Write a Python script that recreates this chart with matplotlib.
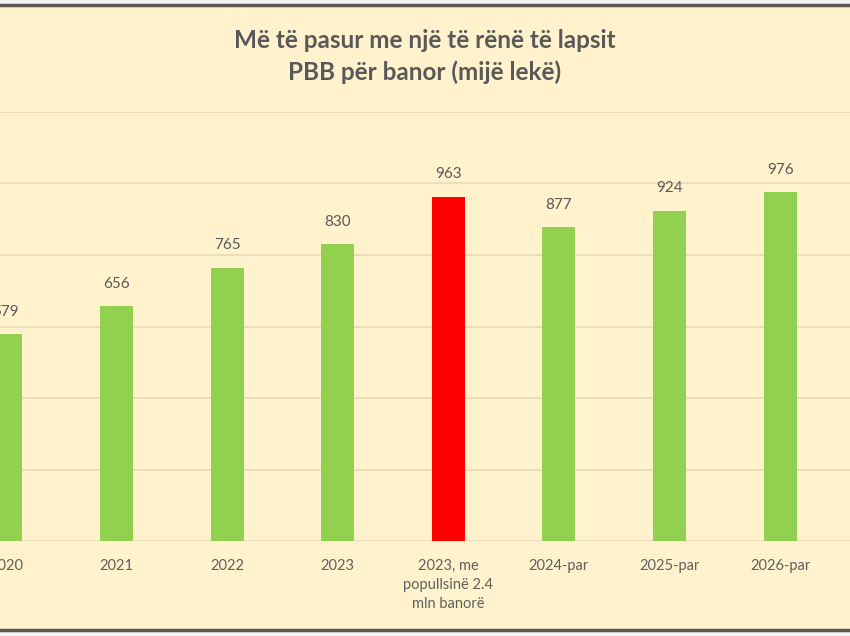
import matplotlib.pyplot as plt
from matplotlib.patches import Rectangle

# PBB për banor (mijë lekë)
kategorite = ["2020", "2021", "2022", "2023", "2023, me\npopullsinë 2.4\nmln banorë",
              "2024-par", "2025-par", "2026-par"]
vlerat = [579, 656, 765, 830, 963, 877, 924, 976]
ngjyrat = ["#92D050", "#92D050", "#92D050", "#92D050", "#FF0000",
           "#92D050", "#92D050", "#92D050"]

plt.rcParams["font.family"] = ["Lato", "DejaVu Sans"]

fig = plt.figure(figsize=(8.5, 6.36), dpi=100, facecolor="#F4F4F4")

# sfondi krem me kornizë
sfond = Rectangle((-0.05, 6 / 636), 1.1, 1 - 11 / 636, transform=fig.transFigure,
                  facecolor="#FFF2CC", edgecolor="#5A5650", linewidth=2.5, zorder=-5)
fig.patches.append(sfond)

ax = fig.add_axes([0.0, 1 - 541 / 636, 1.0, (541 - 112) / 636])
ax.set_facecolor("none")
ax.set_zorder(2)

x = list(range(len(vlerat)))
ax.bar(x, vlerat, width=0.3, color=ngjyrat, zorder=3)

for xi, v in zip(x, vlerat):
    ax.annotate(str(v), (xi, v), xytext=(0, 11), textcoords="offset points",
                ha="center", va="bottom", fontsize=11, color="#595959")

# grafiku origjinal është i prerë në të majtë
ax.set_xlim(-5.9 / 110.6, 844.1 / 110.6)
ax.set_ylim(0, 1200)
ax.set_yticks(range(0, 1201, 200))
ax.yaxis.grid(True, color="#E6DAB8", linewidth=1.2, zorder=0)
ax.set_yticklabels([])
ax.tick_params(axis="y", length=0)

ax.set_xticks(x)
ax.set_xticklabels(kategorite, fontsize=10.5, color="#606060", linespacing=1.45)
ax.tick_params(axis="x", length=0, pad=13)
for s in ax.spines.values():
    s.set_visible(False)

fig.text(0.5, 1 - 40 / 636, "Më të pasur me një të rënë të lapsit", ha="center", va="center",
         fontsize=17.5, fontweight="bold", color="#595959")
fig.text(0.5, 1 - 72 / 636, "PBB për banor (mijë lekë)", ha="center", va="center",
         fontsize=17.5, fontweight="bold", color="#595959")

fig.savefig("out.png", dpi=100, facecolor=fig.get_facecolor())
